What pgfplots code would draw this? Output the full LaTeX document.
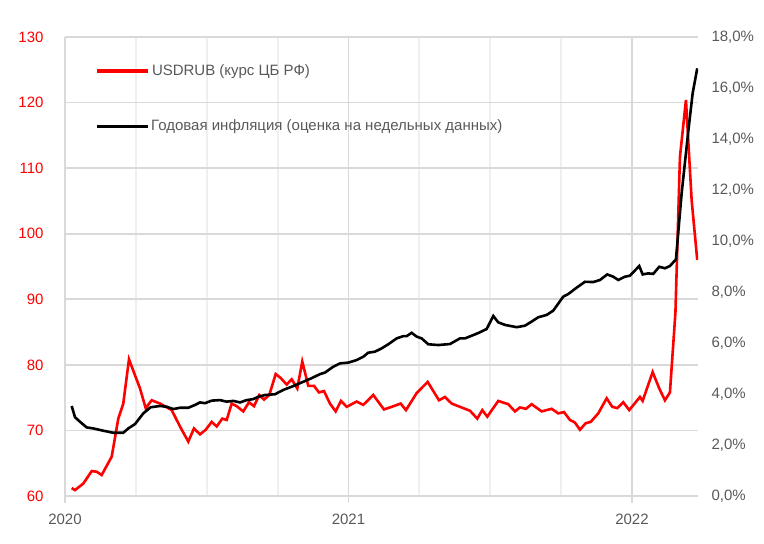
\documentclass[border=0pt]{standalone}
\usepackage{pgfplots}
\pgfplotsset{compat=1.18}
\usepackage{fontspec}
\setmainfont{Liberation Sans}
\definecolor{gridc}{HTML}{D9D9D9}
\definecolor{gridm}{HTML}{EFEFEF}
\definecolor{txt}{HTML}{595959}
\definecolor{rubred}{HTML}{FF0000}
\newcommand{\chartfont}{\fontsize{15}{18}\selectfont}
\pgfplotsset{
  mylegend/.style 2 args={
    legend cell align=left,
    legend style={draw=none, fill=none, inner sep=0pt, font=\chartfont, text=txt,
        at={(axis description cs:0.0474,#1)}, anchor=north west, column sep=0pt},
    legend image code/.code={\draw[##1, line width=#2] (0pt,0pt) -- (51pt,0pt);},
  }
}

% USD/RUB, CBR rate (left axis)
\pgfplotstableread{
x y
2020.0236 61.2
2020.0353 60.9
2020.0646 61.9
2020.0942 63.8
2020.1118 63.7
2020.1295 63.2
2020.1647 66.0
2020.1880 71.8
2020.2056 74.1
2020.2257 80.85
2020.2646 76.4
2020.2847 73.4
2020.3058 74.6
2020.3351 74.1
2020.3764 73.1
2020.4056 70.6
2020.4349 68.3
2020.4550 70.3
2020.4762 69.4
2020.4963 70.1
2020.5175 71.3
2020.5351 70.6
2020.5548 71.8
2020.5704 71.6
2020.5880 74.1
2020.6056 73.7
2020.6289 72.9
2020.6490 74.3
2020.6667 73.7
2020.6854 75.4
2020.7019 74.7
2020.7206 75.4
2020.7432 78.6
2020.7608 78.0
2020.7820 77.0
2020.7997 77.8
2020.8194 76.4
2020.8370 80.5
2020.8582 76.8
2020.8783 76.8
2020.8959 75.8
2020.9136 76.0
2020.9347 74.1
2020.9548 72.9
2020.9735 74.5
2020.9937 73.6
2021.0289 74.4
2021.0522 73.9
2021.0875 75.4
2021.1252 73.2
2021.1524 73.6
2021.1841 74.1
2021.2028 73.1
2021.2406 75.7
2021.2794 77.4
2021.3192 74.6
2021.3404 75.1
2021.3640 74.1
2021.3933 73.6
2021.4286 73.0
2021.4543 71.8
2021.4720 73.1
2021.4896 72.1
2021.5284 74.5
2021.5637 74.0
2021.5873 72.9
2021.6049 73.5
2021.6261 73.3
2021.6462 74.0
2021.6815 72.9
2021.7168 73.3
2021.7400 72.6
2021.7601 72.8
2021.7813 71.6
2021.7989 71.2
2021.8166 70.1
2021.8367 71.1
2021.8543 71.3
2021.8811 72.6
2021.9108 74.9
2021.9305 73.6
2021.9482 73.4
2021.9693 74.3
2021.9905 73.1
2022.0282 75.1
2022.0377 74.5
2022.0730 78.9
2022.0963 76.4
2022.1164 74.6
2022.1340 75.8
2022.1534 88.0
2022.1693 111.7
2022.1905 120.4
2022.2106 105.1
2022.2303 96.0
}\rubdata

% annual inflation, weekly estimate (right axis, %)
\pgfplotstableread{
x y
2020.0236 3.53
2020.0353 3.09
2020.0529 2.91
2020.0765 2.69
2020.0998 2.65
2020.1351 2.56
2020.1704 2.48
2020.2056 2.48
2020.2233 2.65
2020.2469 2.82
2020.2762 3.24
2020.3023 3.48
2020.3351 3.53
2020.3587 3.50
2020.3820 3.41
2020.4056 3.46
2020.4349 3.46
2020.4586 3.57
2020.4762 3.67
2020.4938 3.64
2020.5175 3.74
2020.5467 3.76
2020.5704 3.70
2020.5937 3.73
2020.6173 3.67
2020.6409 3.76
2020.6642 3.80
2020.6818 3.89
2020.7055 3.96
2020.7407 3.99
2020.7700 4.16
2020.8053 4.31
2020.8406 4.48
2020.8702 4.62
2020.8995 4.78
2020.9171 4.84
2020.9464 5.07
2020.9700 5.20
2020.9993 5.23
2021.0289 5.33
2021.0522 5.46
2021.0698 5.62
2021.0935 5.66
2021.1171 5.79
2021.1404 5.95
2021.1700 6.18
2021.1933 6.27
2021.2053 6.27
2021.2229 6.40
2021.2406 6.25
2021.2582 6.18
2021.2815 5.95
2021.3168 5.92
2021.3580 5.96
2021.3933 6.18
2021.4109 6.18
2021.4402 6.31
2021.4638 6.42
2021.4875 6.55
2021.5108 7.06
2021.5284 6.81
2021.5520 6.71
2021.5933 6.62
2021.6226 6.68
2021.6462 6.84
2021.6695 7.01
2021.6991 7.10
2021.7224 7.27
2021.7577 7.82
2021.7753 7.92
2021.8049 8.17
2021.8342 8.40
2021.8635 8.39
2021.8871 8.47
2021.9129 8.69
2021.9340 8.60
2021.9517 8.47
2021.9753 8.60
2021.9929 8.64
2022.0257 9.02
2022.0377 8.69
2022.0575 8.73
2022.0751 8.71
2022.0963 8.99
2022.1164 8.93
2022.1340 9.02
2022.1552 9.28
2022.1753 11.87
2022.1986 14.29
2022.2141 15.79
2022.2303 16.77
}\infldata

\begin{document}
\begin{tikzpicture}
\path[use as bounding box] (-65pt,-48pt) rectangle (699pt,496pt);
\begin{axis}[
    scale only axis,
    width=633pt, height=459pt,
    at={(0pt,0pt)}, anchor=south west,
    xmin=2020, xmax=2022.233,
    ymin=60, ymax=130,
    xtick={2020,2021,2022},
    minor xtick={2020.25,2020.5,2020.75,2021.25,2021.5,2021.75,2022.25},
    ytick={60,70,...,130},
    axis x line*=bottom, axis y line*=left,
    axis line style={-, gridc, line width=1.8pt},
    grid=both,
    major grid style={gridc, line width=1.8pt},
    minor grid style={gridm, line width=1.8pt},
    tick align=outside,
    major tick length=7pt, minor tick length=0pt,
    xtick style={gridc, line width=1.8pt},
    ytick style={draw=none},
    /pgf/number format/assume math mode=true,
    /pgf/number format/1000 sep={},
    tick label style={font=\chartfont},
    xticklabel style={txt, yshift=-7pt},
    yticklabel style={rubred, xshift=-11pt},
    mylegend={0.944}{3.8pt},
]
\addplot[rubred, line width=2.6pt] table[x=x, y=y] {\rubdata};
\addlegendentry{USDRUB (курс ЦБ РФ)}
\end{axis}
\begin{axis}[
    scale only axis,
    width=633pt, height=459pt,
    at={(0pt,0pt)}, anchor=south west,
    xmin=2020, xmax=2022.233,
    ymin=0, ymax=18,
    ytick={0,2,...,18},
    axis x line=none,
    axis y line*=right,
    axis line style={draw=none},
    ytick style={draw=none},
    /pgf/number format/assume math mode=true,
    yticklabel={\pgfmathprintnumber[fixed,fixed zerofill,precision=1,use comma]{\tick}\%},
    yticklabel style={txt, font=\chartfont, xshift=10pt},
    mylegend={0.824}{3pt},
]
\addplot[black, line width=2.6pt] table[x=x, y=y] {\infldata};
\addlegendentry{Годовая инфляция (оценка на недельных данных)}
\end{axis}
\end{tikzpicture}
\end{document}
